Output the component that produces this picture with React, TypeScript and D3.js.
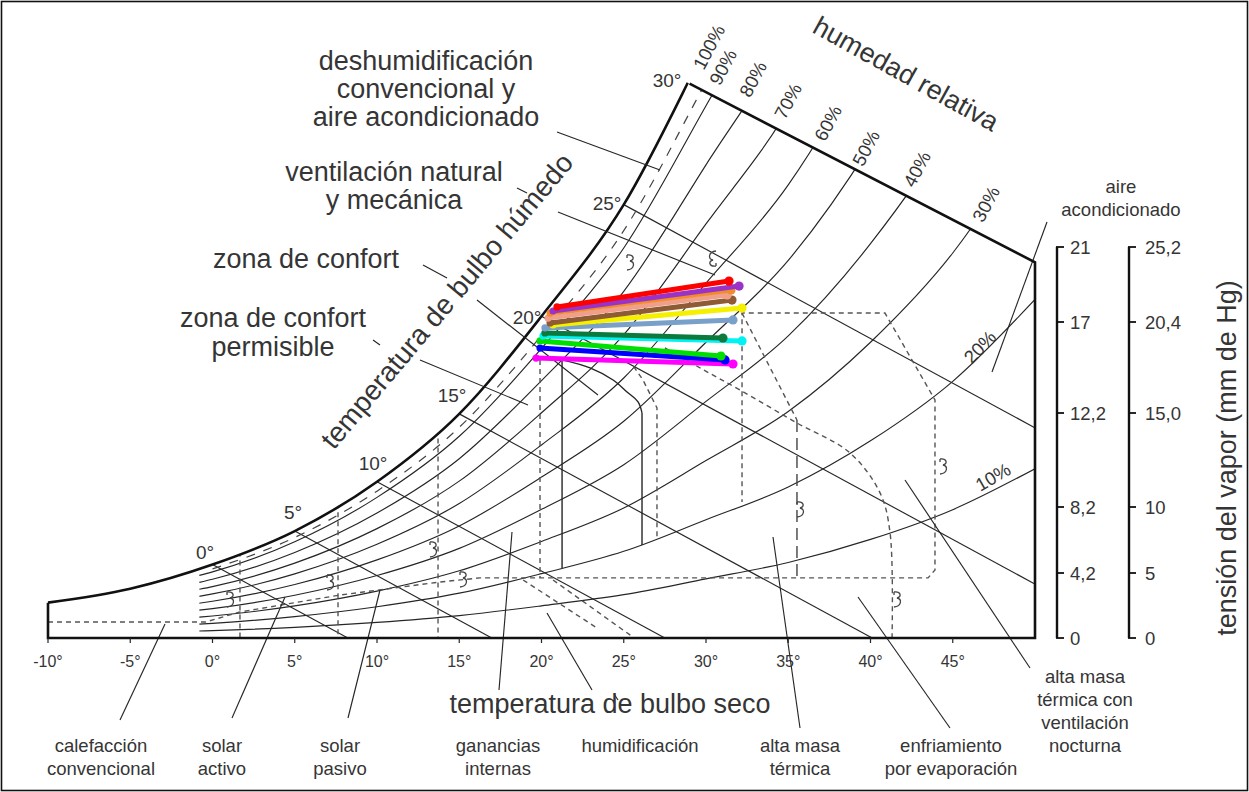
import React from 'react';
import * as d3 from 'd3';

const WIDTH = 1249;
const HEIGHT = 792;

// ---------- data ----------
const tempDomain = [-10, 50];
const humidityDomain = [0, 21];

// saturation curve (chart humidity units)
const satTemps = [-10, -5, 0, 5, 10, 15, 20, 25, 30, 35, 40, 45, 50];
const satHumidity = [1.9, 2.65, 3.95, 5.75, 8.4, 12.05, 17.3, 23.3, 31.8, 40.6, 53.0, 69.0, 91.0];

const rhLevels = [0.1, 0.2, 0.3, 0.4, 0.5, 0.6, 0.7, 0.8, 0.9];
const rhStartTemp = -0.8;
const dehumLevel = 0.94;

const wetBulbTemps = [0, 5, 10, 15, 20, 25];
const wetBulbSlope = 0.48;

const topBoundaryT = [29.0, 50];
const topBoundaryW = [29.8, 20.2];

const dryBulbTicks = [-10, -5, 0, 5, 10, 15, 20, 25, 30, 35, 40, 45];
const wetBulbLabels = ['0°', '5°', '10°', '15°', '20°', '25°', '30°'];
const rhLabels = ['100%', '90%', '80%', '70%', '60%', '50%', '40%', '30%'];
const lowRhLabels = ['20%', '10%'];

const humidityTicks = [0, 4.2, 8.2, 12.2, 17, 21];
const humidityTickLabels = ['0', '4,2', '8,2', '12,2', '17', '21'];
const pressureTickLabels = ['0', '5', '10', '15,0', '20,4', '25,2'];

// colored series (start / end of each line)
const seriesColors = ['#ff0000', '#9a32c8', '#f28c28', '#f0a08a', '#8e5b34', '#f5f000', '#78a0c8', '#0b7a3c', '#00f2f2', '#00e000', '#0000ff', '#ff00ff'];
const seriesStartT = [20.94, 20.70, 20.52, 20.40, 20.52, 20.70, 20.21, 20.21, 20.09, 19.91, 19.91, 19.67];
const seriesStartW = [17.80, 17.58, 17.47, 17.20, 16.94, 16.83, 16.67, 16.40, 16.24, 15.97, 15.59, 15.05];
const seriesEndT = [31.40, 32.01, 31.52, 31.28, 31.58, 32.19, 31.64, 31.03, 32.19, 30.91, 31.16, 31.64];
const seriesEndW = [19.19, 18.92, 18.71, 18.44, 18.17, 17.74, 17.10, 16.13, 15.97, 15.16, 14.95, 14.73];

// zone boundaries (T, w)
const comfortT = [21.25, 21.25, 22.95, 24.35, 25.2, 25.87, 26.11, 26.11];
const comfortW = [3.76, 14.95, 14.52, 13.87, 13.23, 12.69, 12.1, 5.0];
const permLeftT = [19.91, 19.91];
const permLeftW = [14.95, 3.23];
const permRightT = [25.6, 26.17, 27.02, 27.02];
const permRightW = [14.6, 13.87, 12.37, 5.27];
const outerDashT = [-10, -0.43, 1.67, 7.75, 13.83, 16.26, 43.5, 43.92, 43.92, 40.88, 32.19, 32.19];
const outerDashW = [0.86, 0.86, 1.40, 2.31, 3.01, 3.23, 3.23, 3.66, 12.8, 17.47, 17.47, 7.31];
const ventDiagT = [32.19, 35.53, 35.53];
const ventDiagW = [17.47, 11.72, 3.28];
const evapT = [27.5, 29.64, 32.07, 35.53, 38.75, 40.58, 41.19, 41.31];
const evapW = [15.6, 14.52, 13.33, 11.56, 9.95, 7.8, 5.65, 0];
const heatingVerticalT = [1.67, 7.63, 13.71];
const humidDashA_T = [18.88, 23.37];
const humidDashA_W = [3.12, 0.54];
const humidDashB_T = [20.7, 25.56];
const humidDashB_W = [3.12, 0.05];

// ---------- layout ----------
const FONT = "'Liberation Sans', Arial, Helvetica, sans-serif";
const TEXT = '#353535';
const INK = '#262626';

const wetBulbLabelPos = [[205, 552], [293, 512], [373, 463], [452, 395], [527, 317], [607, 203], [667, 80]];
const rhLabelPos = [[709, 47], [723, 67], [753, 79], [788, 101], [828, 123], [866, 148], [917, 169], [986, 204]];
const lowRhLabelPos = [[980, 347, -46], [993, 477, -30]];

const zoneBlocks = [
  { lines: ['deshumidificación', 'convencional y', 'aire acondicionado'], x: 426, y: 70, lh: 28 },
  { lines: ['ventilación natural', 'y mecánica'], x: 394, y: 181, lh: 28 },
  { lines: ['zona de confort'], x: 306, y: 268, lh: 0 },
  { lines: ['zona de confort', 'permisible'], x: 273, y: 327, lh: 29 },
];
const bottomBlocks = [
  { lines: ['calefacción', 'convencional'], x: 101, y: 752 },
  { lines: ['solar', 'activo'], x: 222, y: 752 },
  { lines: ['solar', 'pasivo'], x: 340, y: 752 },
  { lines: ['ganancias', 'internas'], x: 498, y: 752 },
  { lines: ['humidificación'], x: 640, y: 752 },
  { lines: ['alta masa', 'térmica'], x: 800, y: 752 },
  { lines: ['enfriamiento', 'por evaporación'], x: 951, y: 752 },
  { lines: ['alta masa', 'térmica con', 'ventilación', 'nocturna'], x: 1085, y: 683 },
  { lines: ['aire', 'acondicionado'], x: 1121, y: 193 },
];
const leaders = [
  [557, 132, 660, 170],
  [517, 188, 527, 193],
  [558, 212, 715, 275],
  [423, 265, 447, 278],
  [477, 300, 598, 395],
  [373, 340, 380, 345],
  [420, 360, 528, 405],
  [1047, 222, 992, 372],
  [120, 720, 165, 624],
  [232, 718, 285, 597],
  [348, 718, 380, 590],
  [512, 532, 499, 690],
  [497, 703, 497, 713],
  [547, 613, 592, 690],
  [614, 694, 618, 700],
  [773, 537, 800, 728],
  [858, 597, 950, 728],
  [905, 480, 1030, 668],
];
const hooks = [
  [630, 263, 0], [713, 258, 180], [800, 510, 0], [943, 467, 0], [897, 600, 0],
  [330, 583, 0], [230, 600, 0], [433, 550, 0], [463, 580, 0],
];
const HOOK = 'M -3 -8 C 4 -9 5 -3 0 -2 C 5 -1 5 6 -3 7 M -3 -8 L -3 -5';

export default function App() {
  const x = d3.scaleLinear().domain(tempDomain).range([48, 1035]);
  const y = d3.scaleLinear().domain(humidityDomain).range([638, 247.4]);
  const satLin = d3.scaleLinear().domain(satTemps).range(satHumidity);
  const topLine = d3.scaleLinear().domain(topBoundaryT).range(topBoundaryW);
  const axisA = d3.scaleLinear().domain(humidityTicks).range([638, 573, 507, 413, 322, 247]);

  type P = [number, number];
  const straight = d3.line<P>().x(d => x(d[0])).y(d => y(d[1]));
  const smooth = d3.line<P>().x(d => x(d[0])).y(d => y(d[1])).curve(d3.curveMonotoneX);
  const catmull = d3.line<P>().x(d => x(d[0])).y(d => y(d[1])).curve(d3.curveCatmullRom);
  const zip = (a: number[], b: number[]): P[] => a.map((v, i) => [v, b[i]] as P);

  const satPts = zip(satTemps, satHumidity);
  const satPath = smooth(satPts) as string;
  const satClip = `${satPath}L${x(50)},${y(0) + 10}L${x(-10)},${y(0) + 10}Z`;
  const topClip = straight([[-12, topLine(-12)], [50, topLine(50)], [50, -0.6], [-12, -0.6]]) + 'Z';

  const rhCurves = rhLevels.map(r => {
    const pts: P[] = [[rhStartTemp, r * satLin(rhStartTemp)]];
    satTemps.filter(t => t > rhStartTemp).forEach(t => pts.push([t, r * satLin(t)]));
    return smooth(pts) as string;
  });
  const dehumPts: P[] = satTemps.filter(t => t >= 0 && t <= 35).map(t => [t, dehumLevel * satLin(t)] as P);
  const wetBulbLines = wetBulbTemps.map(t => {
    const s = satLin(t);
    return straight([[t, s], [t + s / wetBulbSlope, 0]]) as string;
  });

  const thin = { fill: 'none', stroke: INK, strokeWidth: 1.15 };
  const dashed = { fill: 'none', stroke: '#555', strokeWidth: 1.4, strokeDasharray: '5,4' };

  return (
    <div style={{ position: 'absolute', left: 0, top: 0 }}>
      <svg width={WIDTH} height={HEIGHT} viewBox={`0 0 ${WIDTH} ${HEIGHT}`} style={{ display: 'block', background: '#fff' }}>
        <defs>
          <clipPath id="satClip"><path d={satClip} /></clipPath>
          <clipPath id="topClip"><path d={topClip} /></clipPath>
        </defs>
        <rect x={1.5} y={1.5} width={WIDTH - 3} height={HEIGHT - 3} fill="#fff" stroke="#111" strokeWidth={1.6} />

        <g clipPath="url(#topClip)">
          <g clipPath="url(#satClip)">
            {rhCurves.map((d, i) => <path key={'rh' + i} d={d} {...thin} />)}
            {wetBulbLines.map((d, i) => <path key={'wb' + i} d={d} {...thin} />)}
            <path d={smooth(dehumPts) as string} fill="none" stroke="#444" strokeWidth={1.2} strokeDasharray="9,9" />
            {heatingVerticalT.map((t, i) => (
              <path key={'hv' + i} d={straight([[t, satLin(t) + 3], [t, 0]]) as string} {...dashed} />
            ))}
          </g>
          <path d={satPath} fill="none" stroke="#111" strokeWidth={2.6} />
        </g>

        {/* zone boundaries */}
        <path d={straight(zip(comfortT, comfortW).slice(0, 2)) as string} {...thin} strokeWidth={1.4} />
        <path d={catmull(zip(comfortT, comfortW).slice(1, 7)) as string} {...thin} strokeWidth={1.4} />
        <path d={straight(zip(comfortT, comfortW).slice(6)) as string} {...thin} strokeWidth={1.4} />
        <path d={straight(zip(permLeftT, permLeftW)) as string} {...dashed} />
        <path d={straight(zip(permRightT, permRightW)) as string} {...dashed} />
        <path d={straight(zip(outerDashT, outerDashW)) as string} {...dashed} />
        <path d={straight(zip(ventDiagT, ventDiagW).slice(0, 2)) as string} {...dashed} />
        <path d={straight(zip(ventDiagT, ventDiagW).slice(1)) as string} fill="none" stroke="#444" strokeWidth={1.4} strokeDasharray="12,6" />
        <path d={catmull(zip(evapT, evapW)) as string} {...dashed} />
        <path d={straight(zip(humidDashA_T, humidDashA_W)) as string} {...dashed} />
        <path d={straight(zip(humidDashB_T, humidDashB_W)) as string} {...dashed} />

        {/* leaders */}
        {leaders.map((l, i) => (
          <line key={'ld' + i} x1={l[0]} y1={l[1]} x2={l[2]} y2={l[3]} stroke={INK} strokeWidth={1.15} />
        ))}
        {hooks.map((h, i) => (
          <path key={'hk' + i} d={HOOK} transform={`translate(${h[0]},${h[1]}) rotate(${h[2]})`} fill="none" stroke="#444" strokeWidth={1.3} />
        ))}

        {/* chart outline */}
        <path d={straight([[topBoundaryT[0], topBoundaryW[0]], [50, topBoundaryW[1]], [50, 0], [-10, 0], [-10, satHumidity[0]]]) as string}
          fill="none" stroke="#111" strokeWidth={2.6} strokeLinejoin="miter" />

        {/* bottom ticks */}
        {dryBulbTicks.map(t => (
          <g key={'xt' + t}>
            <line x1={x(t)} x2={x(t)} y1={y(0)} y2={y(0) + 5} stroke={INK} strokeWidth={1.2} />
            <text x={x(t)} y={y(0) + 29} textAnchor="middle" fontFamily={FONT} fontSize={16} fill={TEXT}>{`${t}°`}</text>
          </g>
        ))}

        {/* right axes */}
        {[1057, 1129].map((ax, k) => (
          <g key={'ax' + k}>
            <line x1={ax} x2={ax} y1={axisA(21)} y2={axisA(0)} stroke="#111" strokeWidth={2.4} />
            {humidityTicks.map((v, i) => (
              <g key={i}>
                <line x1={ax - 1} x2={ax + 7} y1={axisA(v)} y2={axisA(v)} stroke="#111" strokeWidth={1.8} />
                <text x={ax + (k === 0 ? 13 : 16)} y={axisA(v) + 6.5} fontFamily={FONT} fontSize={18.5} fill={TEXT}>
                  {k === 0 ? humidityTickLabels[i] : pressureTickLabels[i]}
                </text>
              </g>
            ))}
          </g>
        ))}
        <text transform="translate(1236,458) rotate(-90)" textAnchor="middle" fontFamily={FONT} fontSize={27} fill={TEXT}>
          tensión del vapor (mm de Hg)
        </text>

        {/* colored series */}
        {seriesColors.map((c, i) => i).reverse().map(i => (
          <g key={'s' + i}>
            <path d={straight([[seriesStartT[i], seriesStartW[i]], [seriesEndT[i], seriesEndW[i]]]) as string}
              stroke={seriesColors[i]} strokeWidth={5} fill="none" strokeLinecap="round" />
            <circle cx={x(seriesStartT[i])} cy={y(seriesStartW[i])} r={3.6} fill={seriesColors[i]} />
            <circle cx={x(seriesEndT[i])} cy={y(seriesEndW[i])} r={4.6} fill={seriesColors[i]} />
          </g>
        ))}

        {/* curve labels */}
        {wetBulbLabels.map((s, i) => (
          <text key={'wbl' + i} x={wetBulbLabelPos[i][0]} y={wetBulbLabelPos[i][1]} textAnchor="middle" dominantBaseline="central"
            fontFamily={FONT} fontSize={19} fill={TEXT}>{s}</text>
        ))}
        {rhLabels.map((s, i) => (
          <text key={'rhl' + i} transform={`translate(${rhLabelPos[i][0]},${rhLabelPos[i][1]}) rotate(-62)`} textAnchor="middle"
            dominantBaseline="central" fontFamily={FONT} fontSize={18.5} fill={TEXT}>{s}</text>
        ))}
        {lowRhLabels.map((s, i) => (
          <text key={'lrl' + i} transform={`translate(${lowRhLabelPos[i][0]},${lowRhLabelPos[i][1]}) rotate(${lowRhLabelPos[i][2]})`}
            textAnchor="middle" dominantBaseline="central" fontFamily={FONT} fontSize={18.5} fill={TEXT}>{s}</text>
        ))}
        <text transform="translate(906,74) rotate(29)" textAnchor="middle" dominantBaseline="central" fontFamily={FONT} fontSize={27} fill={TEXT}>
          humedad relativa
        </text>
        <text transform="translate(447,301) rotate(-50)" textAnchor="middle" dominantBaseline="central" fontFamily={FONT} fontSize={28} fill={TEXT}>
          temperatura de bulbo húmedo
        </text>
        <text x={610} y={713} textAnchor="middle" fontFamily={FONT} fontSize={27} fill={TEXT}>temperatura de bulbo seco</text>

        {zoneBlocks.map((b, i) => b.lines.map((l, j) => (
          <text key={'zb' + i + '_' + j} x={b.x} y={b.y + j * b.lh} textAnchor="middle" fontFamily={FONT} fontSize={27} fill={TEXT}>{l}</text>
        )))}
        {bottomBlocks.map((b, i) => b.lines.map((l, j) => (
          <text key={'bb' + i + '_' + j} x={b.x} y={b.y + j * 23} textAnchor="middle" fontFamily={FONT} fontSize={18.5} fill={TEXT}>{l}</text>
        )))}
      </svg>
    </div>
  );
}
